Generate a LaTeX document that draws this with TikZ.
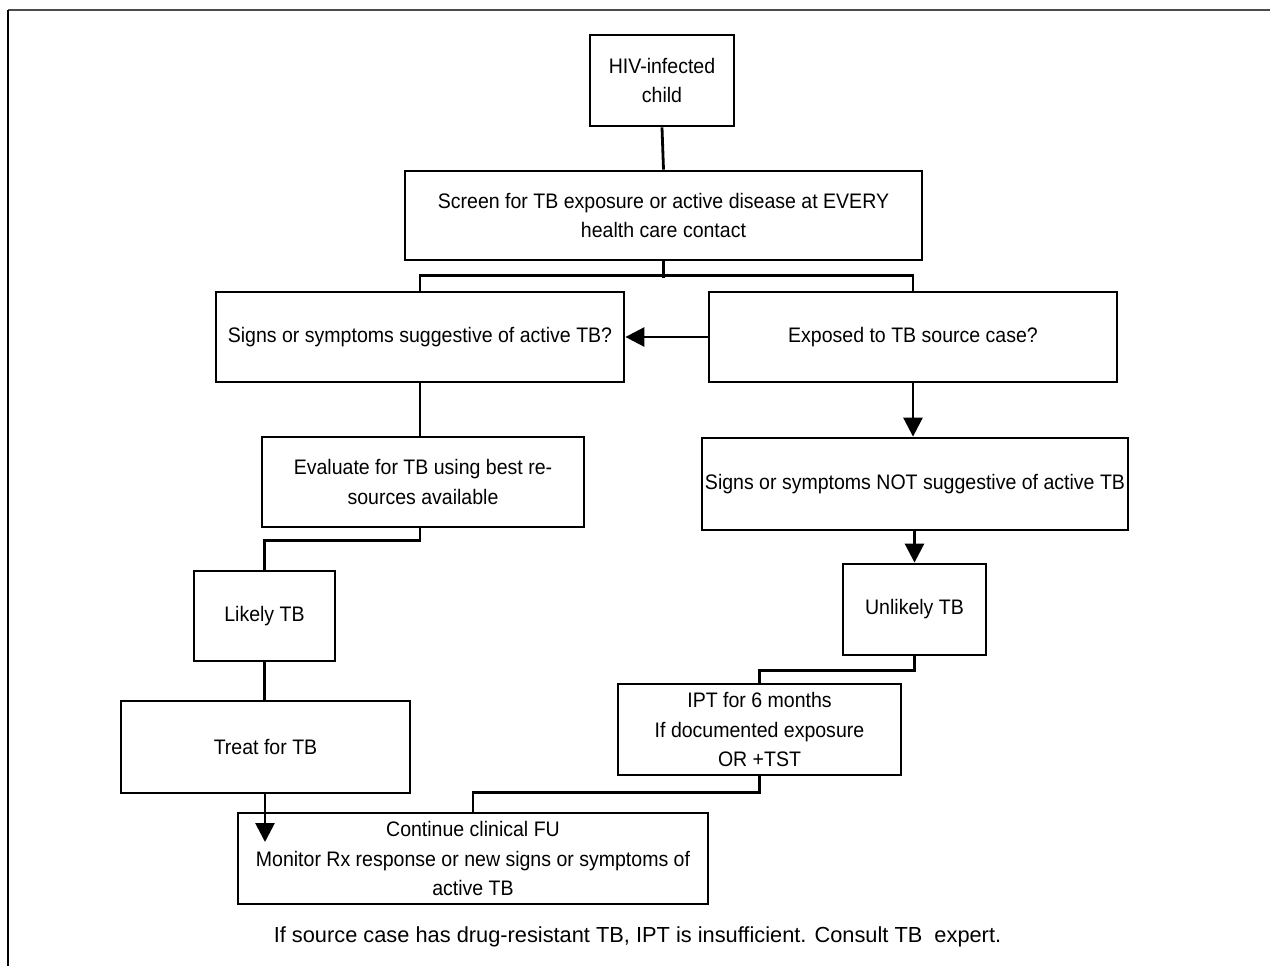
\documentclass[tikz,border=0pt]{standalone}
\usepackage{fontspec}
\setmainfont{Liberation Sans}[FakeStretch=0.93]
\newfontfamily\notefont{Liberation Sans}
\usetikzlibrary{arrows.meta}
\tikzset{
  box/.style={draw, line width=2.8pt, align=center, inner sep=2pt,
    font=\fontsize{21}{29.5}\selectfont},
  conn/.style={line width=2.8pt},
  arr/.style={line width=2.8pt, -{Triangle[length=19pt,width=19pt]}},
  frameline/.style={line width=2pt}
}
\begin{document}
\begin{tikzpicture}[x=1pt,y=-1pt]
\useasboundingbox (0,0) rectangle (1270,966);
\draw[frameline, black!70] (1270,10) -- (8,10);
\draw[frameline] (8,10) -- (8,966);

\node[box, minimum width=144, minimum height=91] (hiv) at (662,80.5) {HIV-infected\\child};
\node[box, minimum width=517, minimum height=89] (screen) at (663.5,215.5) {Screen for TB exposure or active disease at EVERY\\health care contact};
\node[box, minimum width=408, minimum height=90] (signs) at (420,337) {Signs or symptoms suggestive of active TB?};
\node[box, minimum width=408, minimum height=90] (exposed) at (913,337) {Exposed to TB source case?};
\node[box, minimum width=322, minimum height=90] (eval) at (423,482) {Evaluate for TB using best re-\\sources available};
\node[box, minimum width=426, minimum height=92] (notsig) at (915,484) {Signs or symptoms NOT suggestive of active TB};
\node[box, minimum width=141, minimum height=90] (likely) at (264.5,616) {Likely TB};
\node[box, minimum width=143, minimum height=91] (unlikely) at (914.5,609.5) {Unlikely TB};
\node[box, minimum width=289, minimum height=92] (treat) at (265.5,747) {Treat for TB};
\node[box, minimum width=283, minimum height=91] (ipt) at (759.5,729.5) {IPT for 6 months\\If documented exposure\\OR +TST};
\node[box, minimum width=470, minimum height=91] (fu) at (473,858.5) {Continue clinical FU\\Monitor Rx response or new signs or symptoms of\\active TB};

\node[font=\notefont\fontsize{21.8}{26}\selectfont] (note) at (637.5,937) {If source case has drug-resistant TB, IPT is insufficient. Consult TB\ \ expert.};

\coordinate (tip) at (265,842);

\draw[conn] (hiv.south) -- (screen.north);
\draw[conn] (screen.south) -- ++(0,17);
\draw[conn] (signs.north) -- ++(0,-15) -| (exposed.north);
\draw[arr] (exposed.west) -- (signs.east);
\draw[arr] (exposed.south) -- (exposed.south |- notsig.north);
\draw[conn] (signs.south) -- (signs.south |- eval.north);
\draw[conn] (eval.south -| signs.south) -- ++(0,12) -| (likely.north);
\draw[conn] (likely.south) -- (likely.south |- treat.north);
\draw[arr] (treat.south -| tip) -- (tip);
\draw[arr] (unlikely.north |- notsig.south) -- (unlikely.north);
\draw[conn] (unlikely.south) -- ++(0,14) -| (ipt.north);
\draw[conn] (ipt.south) -- ++(0,16) -| (fu.north);
\end{tikzpicture}
\end{document}
